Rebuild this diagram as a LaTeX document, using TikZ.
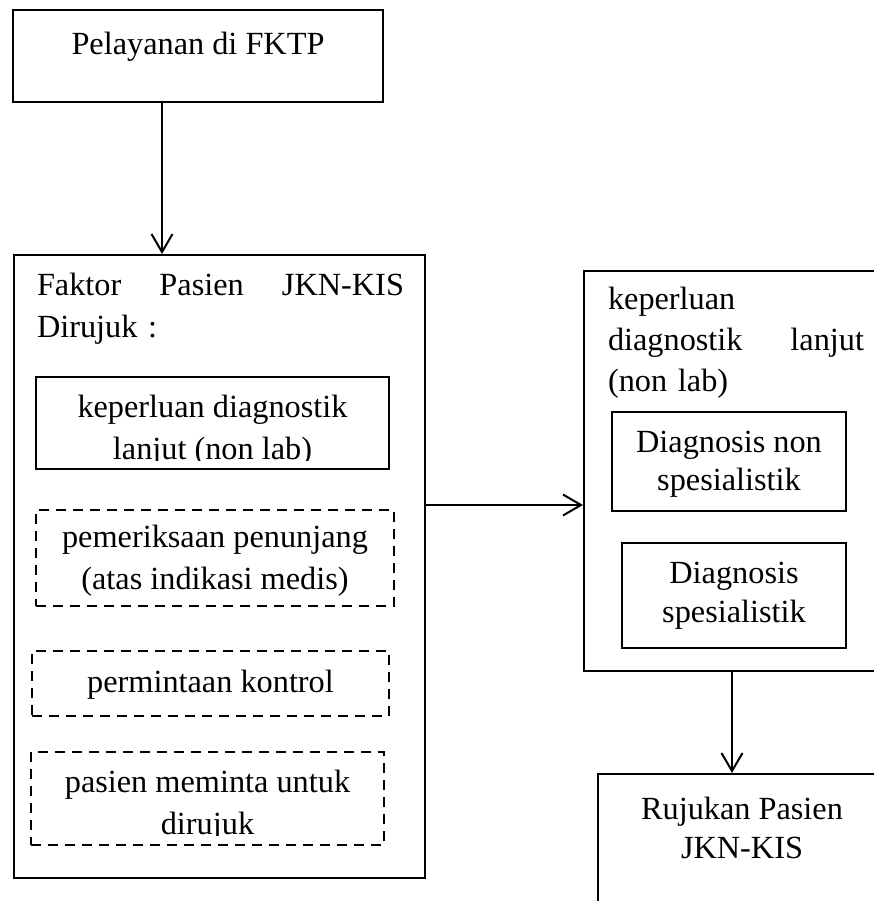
\documentclass[tikz,border=0pt]{standalone}
\usepackage{fontspec}
\setmainfont{Liberation Serif}
\usetikzlibrary{arrows.meta}
\begin{document}
\begin{tikzpicture}[x=1pt,y=-1pt,line width=2pt,
  font=\fontsize{32.3}{42}\selectfont,
  box/.style={rectangle,draw,inner sep=0pt},
  dbox/.style={box,dash pattern=on 10pt off 7pt},
  txt/.style={inner sep=0pt,anchor=base,align=center},
  tight/.style={font=\fontsize{32.3}{39}\selectfont},
  arr/.style={-{Straight Barb[length=18pt,width=21pt]}}]
  \useasboundingbox (0,0) rectangle (874,901);
  \clip (0,0) rectangle (874,901);
  \node[box,minimum width=370pt,minimum height=92pt] (fktp) at (198,56) {};
  \node[box,minimum width=411pt,minimum height=623pt] (faktor) at (219.5,566.5) {};
  \node[box,minimum width=353pt,minimum height=92pt] (kdl) at (212.5,423) {};
  \node[dbox,minimum width=358pt,minimum height=96pt] (pp) at (215,558) {};
  \node[dbox,minimum width=357pt,minimum height=65pt] (pk) at (210.5,683.5) {};
  \node[dbox,minimum width=353pt,minimum height=93pt] (pm) at (207.5,798.5) {};
  \node[box,minimum width=296pt,minimum height=400pt] (diag) at (732,471) {};
  \node[box,minimum width=234pt,minimum height=99pt] (dn) at (729,461.5) {};
  \node[box,minimum width=224pt,minimum height=105pt] (ds) at (734,595.5) {};
  \node[box,minimum width=288pt,minimum height=186pt] (rujukan) at (742,867) {};

  \node[txt] (tfktp) at (198,55) {Pelayanan di FKTP};
  \node[txt,anchor=base west,text width=367pt,align=left] (tfaktor) at (36,295)
    {Faktor\hfill Pasien\hfill JKN-KIS\\Dirujuk :};
  \begin{scope}
    \clip (kdl.north west) rectangle ([yshift=10pt]kdl.south east);
    \node[txt] (tkdl) at (212.5,459) {keperluan diagnostik\\lanjut (non lab)};
  \end{scope}
  \node[txt] (tpp) at (215,589) {pemeriksaan penunjang\\(atas indikasi medis)};
  \node[txt] (tpk) at (210.5,692) {permintaan kontrol};
  \begin{scope}
    \clip (pm.north west) rectangle ([yshift=11pt]pm.south east);
    \node[txt] (tpm) at (207.5,834) {pasien meminta untuk\\dirujuk};
  \end{scope}
  \node[txt,anchor=base west,text width=256pt,align=left,
    font=\fontsize{32.3}{41}\selectfont] (tdiag) at (607,309)
    {keperluan\\diagnostik\hfill lanjut\\(non lab)};
  \node[txt,font=\fontsize{32.3}{38}\selectfont] (tdn) at (729,490) {Diagnosis non\\spesialistik};
  \node[txt,tight] (tds) at (734,622) {Diagnosis\\spesialistik};
  \node[txt,tight] (truj) at (742,858) {Rujukan Pasien\\JKN-KIS};

  \coordinate (a1) at ([xshift=-36pt]fktp.south);
  \coordinate (a2) at ([yshift=61.5pt]faktor.east);
  \draw[arr](a1)--(a1 |- faktor.north);
  \draw[arr](a2)--(a2 -| diag.west);
  \draw[arr](diag.south)--(diag.south |- rujukan.north);
\end{tikzpicture}
\end{document}
